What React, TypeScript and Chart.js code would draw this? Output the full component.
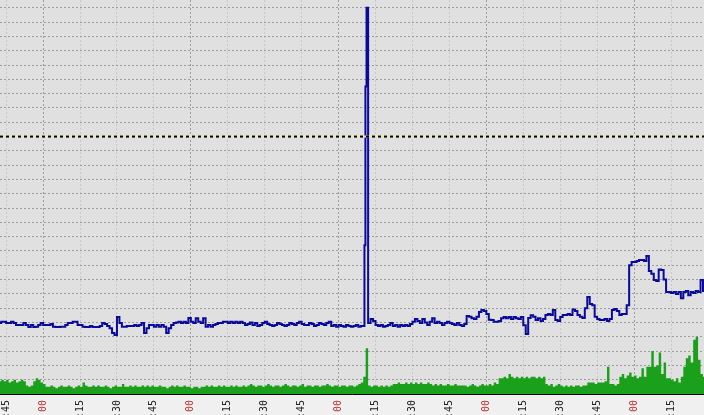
import React, { useEffect, useRef } from "react";
import { Chart, registerables } from "chart.js";

Chart.register(...registerables);

const CANVAS_W = 704;
const CANVAS_H = 430;
const PLOT_BOTTOM = 394;

const START_MINUTE = -18;
const STEP_MINUTES = 1;
const X_MIN = -17.5;
const X_MAX = 268.4;
const Y_MAX = 275.5;
const Y_STEP = 10;
const THRESHOLD = 180;

const tickMinutes = [-15, 0, 15, 30, 45, 60, 75, 90, 105, 120, 135, 150, 165, 180, 195, 210, 225, 240, 255];
const tickLabels = [":45", "00", ":15", ":30", ":45", "00", ":15", ":30", ":45", "00", ":15", ":30", ":45", "00", ":15", ":30", ":45", "00", ":15"];

const blueValues = [
  49.7, 50.6, 50.6, 49.7, 49.7, 50.6, 49.7, 48.3, 48.3, 48.3,
  49.7, 48.3, 46.9, 48.3, 46.9, 47, 48.3, 49.7, 48.3, 48.3,
  48.3, 49, 47, 46.9, 46.9, 47.1, 47.1, 48.3, 49.7, 49.7,
  50.6, 50.6, 48.3, 48.3, 47.1, 46.9, 46.9, 47.5, 46.9, 46.9,
  46.9, 47.5, 49.7, 49, 47.5, 46, 42.7, 41.3, 53.8, 49.7,
  47.1, 47.1, 47.6, 47.6, 47.6, 48.3, 47.6, 48.3, 49.7, 42.7,
  46, 48.3, 48.3, 47.1, 48.3, 47.1, 48.3, 47, 42.7, 46,
  48.3, 49.7, 50, 50.6, 49.7, 50.6, 49.7, 53.1, 50.6, 49.7,
  53, 50.6, 49.7, 53, 47.1, 48.3, 47.1, 48.3, 49, 49.7,
  49.7, 50.6, 50.6, 49.7, 50.6, 49.7, 50.6, 49.7, 50.6, 49.7,
  48.3, 49, 50, 48.3, 49.7, 47.6, 48.3, 49.7, 50.6, 49,
  48.3, 47.6, 48.3, 49.7, 49, 48.3, 47.6, 48.3, 49.7, 49,
  48.3, 49.7, 50.6, 49, 48.3, 48.3, 49.7, 49, 47.6, 48.3,
  49.7, 49, 48.3, 49.7, 50.6, 47.6, 48.3, 47, 48.3, 47.6,
  47, 48.3, 47.6, 47, 47.6, 48.3, 47, 47.6, 47.6, 215,
  49.7, 52.4, 51, 48.3, 47.6, 48.3, 47, 47.6, 48.3, 49.7,
  47.6, 48.3, 47, 48.3, 47.6, 48.3, 47.6, 49, 50.6, 52.4,
  51, 49.7, 52.4, 50, 48.3, 50.6, 53, 49.7, 50.6, 49.7,
  48.3, 49.7, 50.6, 49.7, 49, 48.3, 49.7, 48.3, 47.5, 49,
  54.5, 54, 53, 52.5, 54, 57.3, 58.7, 58, 56, 52,
  51.7, 50.5, 50.6, 51, 53, 53.8, 53, 53.8, 52.4, 53.8,
  53, 52.4, 53.8, 48, 42, 53.1, 55, 54, 51.7, 53,
  51, 52.4, 55.2, 55.9, 55.2, 58.7, 51.7, 51, 53.8, 55.2,
  55.2, 55.9, 55.2, 59, 58, 55.2, 54, 53.1, 60, 67.8,
  63, 62, 54, 52.4, 51.7, 51.7, 52.4, 51, 52.4, 58.7,
  59.4, 58, 55.2, 55.9, 55.9, 62, 90, 92.3, 92.3, 93,
  93.7, 93.7, 93, 96.5, 86, 84, 79.7, 79, 87, 86.7,
  80, 71.3, 71.3, 70.6, 71.3, 70, 71.3, 67, 71.3, 72,
  69, 71.3, 70.6, 72, 71.3, 79.7, 72, 71.3,
];

// finer samples of the spike (minutes, values)
const spikeMinutes = [130.5, 130.9, 131.35];
const spikeValues = [104, 215, 270];

const greenValues = [
  9, 10, 9, 10, 8, 9, 10, 8, 9, 10,
  9, 6, 5, 6, 9, 11, 10, 8, 7, 5,
  5, 6, 5, 4, 5, 6, 5, 5, 6, 5,
  4, 5, 6, 5, 8, 6, 5, 5, 6, 5,
  6, 5, 5, 6, 5, 4, 5, 6, 5, 5,
  7, 5, 5, 6, 5, 6, 5, 5, 6, 5,
  6, 5, 6, 5, 5, 6, 5, 5, 4, 5,
  6, 5, 6, 5, 5, 6, 5, 5, 4, 5,
  5, 4, 5, 5, 6, 5, 6, 5, 5, 6,
  5, 6, 5, 5, 6, 5, 6, 5, 5, 6,
  5, 6, 7, 6, 5, 6, 6, 5, 6, 7,
  6, 5, 6, 6, 5, 6, 7, 6, 5, 6,
  6, 5, 6, 7, 5, 6, 6, 5, 6, 6,
  5, 6, 6, 7, 6, 5, 6, 6, 5, 6,
  6, 5, 6, 6, 5, 6, 7, 8, 12, 32,
  6, 5, 6, 6, 5, 6, 5, 6, 5, 6,
  7, 7, 8, 7, 7, 8, 7, 8, 7, 8,
  7, 8, 7, 7, 8, 7, 6, 7, 6, 7,
  6, 6, 7, 6, 6, 7, 6, 6, 6, 6,
  5, 6, 7, 6, 5, 6, 7, 6, 6, 7,
  6, 8, 7, 11, 11, 12, 11, 14, 12, 11,
  12, 11, 12, 11, 12, 11, 12, 12, 11, 12,
  11, 12, 7, 6, 7, 5, 6, 7, 6, 5,
  6, 5, 6, 5, 6, 6, 5, 6, 6, 8,
  8, 8, 7, 8, 8, 8, 9, 19, 7, 7,
  6, 7, 12, 14, 11, 13, 15, 12, 13, 11,
  12, 18, 12, 19, 19, 30, 19, 20, 29, 14,
  22, 11, 11, 10, 9, 11, 8, 12, 19, 25,
  27, 22, 38, 40, 24, 14, 12, 13,
];

const toPoints = (vals: number[]) =>
  vals.map((v, i) => ({ x: START_MINUTE + i * STEP_MINUTES, y: v }));

const bluePoints = () =>
  toPoints(blueValues)
    .concat(spikeMinutes.map((m, i) => ({ x: m, y: spikeValues[i] })))
    .sort((a, b) => a.x - b.x);

const backgroundPlugin = {
  id: "rrdBackground",
  beforeDraw(chart: any) {
    const { ctx, chartArea: a, width, height } = chart;
    ctx.save();
    ctx.fillStyle = "#f0f0f0";
    ctx.fillRect(0, 0, width, height);
    ctx.fillStyle = "#e0e0e0";
    ctx.fillRect(a.left, a.top, a.right - a.left, a.bottom - a.top);
    ctx.restore();
  },
};

export default function App() {
  const ref = useRef<HTMLCanvasElement>(null);

  useEffect(() => {
    if (!ref.current) return;
    const chart = new Chart(ref.current, {
      type: "line",
      data: {
        datasets: [
          {
            label: "threshold",
            data: [{ x: X_MIN, y: THRESHOLD }, { x: X_MAX, y: THRESHOLD }],
            borderColor: "#000000",
            borderWidth: 2,
            borderDash: [3, 3],
            pointRadius: 0,
            fill: false,
            order: 0,
          },
          {
            label: "threshold-bg",
            data: [{ x: X_MIN, y: THRESHOLD }, { x: X_MAX, y: THRESHOLD }],
            borderColor: "#eeeab4",
            borderWidth: 2,
            pointRadius: 0,
            fill: false,
            order: 1,
          },
          {
            label: "blue",
            data: bluePoints(),
            borderColor: "#0a0a9a",
            borderWidth: 2,
            stepped: true,
            pointRadius: 0,
            fill: false,
            order: 2,
          },
          {
            label: "green",
            data: toPoints(greenValues),
            borderColor: "rgba(0,0,0,0)",
            borderWidth: 0,
            backgroundColor: "#1aa01a",
            fill: "origin",
            stepped: true,
            pointRadius: 0,
            order: 3,
          },
        ],
      } as any,
      options: {
        responsive: false,
        animation: false,
        events: [],
        layout: { padding: 0 },
        plugins: { legend: { display: false }, tooltip: { enabled: false } },
        scales: {
          x: {
            type: "linear",
            min: X_MIN,
            max: X_MAX,
            afterBuildTicks: (s: any) => {
              s.ticks = tickMinutes.map((v) => ({ value: v }));
            },
            afterFit: (s: any) => {
              s.height = CANVAS_H - PLOT_BOTTOM;
            },
            ticks: {
              autoSkip: false,
              minRotation: 90,
              maxRotation: 90,
              padding: 6,
              font: { family: "DejaVu Sans Mono", size: 10 },
              color: (c: any) => (c.tick && c.tick.value % 60 === 0 ? "#b83a3a" : "#202020"),
              callback: (v: any) => tickLabels[tickMinutes.indexOf(Number(v))] ?? "",
            },
            grid: {
              drawTicks: false,
              lineWidth: 1,
              color: (c: any) => (c.tick && c.tick.value % 60 === 0 ? "#9c9c9c" : "#c8c8c8"),
            },
            border: { display: true, color: "#000000", width: 1, dash: [2, 2] },
          },
          y: {
            type: "linear",
            min: 0,
            max: Y_MAX,
            afterFit: (s: any) => {
              s.width = 0;
            },
            ticks: { display: false, stepSize: Y_STEP, includeBounds: false },
            grid: { drawTicks: false, color: "#9c9c9c", lineWidth: 1 },
            border: { display: false, dash: [2, 2] },
          },
        },
      } as any,
      plugins: [backgroundPlugin],
    });
    return () => chart.destroy();
  }, []);

  return (
    <div style={{ position: "fixed", left: 0, top: 0, width: CANVAS_W, height: 415, overflow: "hidden" }}>
      <canvas ref={ref} width={CANVAS_W} height={CANVAS_H} style={{ display: "block" }} />
    </div>
  );
}
